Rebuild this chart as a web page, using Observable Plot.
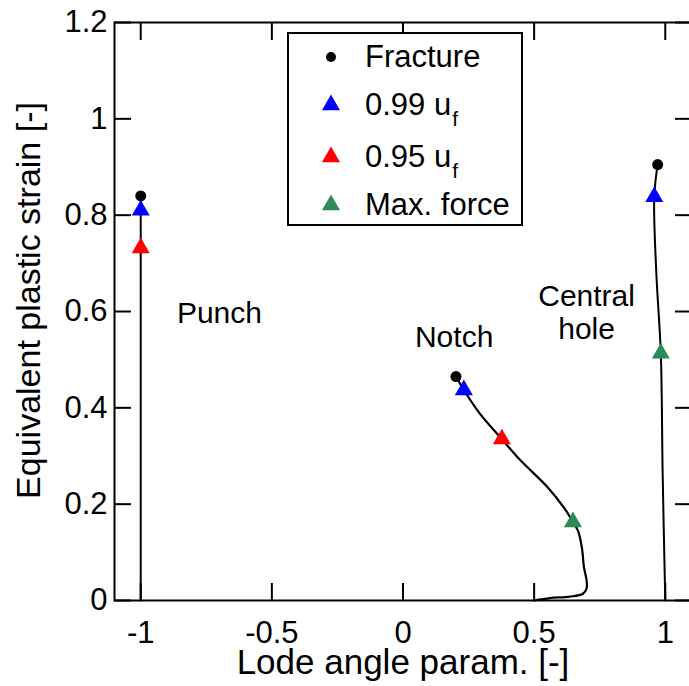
<!DOCTYPE html>
<html><head><meta charset="utf-8">
<script src="https://cdn.jsdelivr.net/npm/d3@7"></script>
<script src="https://cdn.jsdelivr.net/npm/@observablehq/plot@0.6"></script>
<style>
body{margin:0;background:#fff;}
#wrap{position:relative;width:689px;height:686px;overflow:hidden;font-family:"Liberation Sans",Arial,sans-serif;}
#legend{position:absolute;left:287px;top:32px;width:236px;height:194px;box-sizing:border-box;border:2px solid #000;background:#fff;}
.row{position:absolute;left:0;width:230px;height:40px;}
.row svg{position:absolute;left:30px;top:8px;}
.row .lab{position:absolute;left:76px;top:0;line-height:40px;font-size:31px;white-space:nowrap;color:#000;}
.row .sub{font-size:21px;position:relative;top:11px;margin-left:1px;}
</style></head><body><div id="wrap"></div>
<script>
// Axis ticks
const xTicks = [-1, -0.5, 0, 0.5, 1];
const yTicks = [0, 0.2, 0.4, 0.6, 0.8, 1, 1.2];
const xTitle = "Lode angle param. [-]";
const yTitle = "Equivalent plastic strain [-]";

// Strain paths
const punchX = [-1, -1];
const punchY = [0, 0.84];
const notchX = [0.5, 0.56, 0.636, 0.686, 0.70, 0.70, 0.69, 0.682, 0.667, 0.648, 0.617, 0.548, 0.446, 0.377, 0.293, 0.232, 0.202];
const notchY = [0, 0.005, 0.008, 0.014, 0.025, 0.042, 0.069, 0.11, 0.145, 0.163, 0.19, 0.237, 0.292, 0.335, 0.388, 0.437, 0.465];
const holeX = [1.0, 0.99, 0.983, 0.966, 0.958, 0.971];
const holeY = [0, 0.264, 0.513, 0.679, 0.838, 0.905];

// Markers
const fractureX = [-1, 0.202, 0.971];
const fractureY = [0.84, 0.465, 0.905];
const u99X = [-1, 0.232, 0.958];
const u99Y = [0.81, 0.437, 0.838];
const u95X = [-1, 0.377];
const u95Y = [0.732, 0.335];
const maxForceX = [0.648, 0.983];
const maxForceY = [0.163, 0.513];

// Annotations
const labelText = ["Punch", "Notch", "Central\nhole"];
const labelX = [-0.70, 0.195, 0.70];
const labelY = [0.598, 0.548, 0.60];

const legendNames = ["Fracture", "0.99 u", "0.95 u", "Max. force"];
const legendSub = ["", "f", "f", ""];
const legendColors = ["#000000", "#0000ff", "#ff0000", "#2e8b57"];
const legendSymbols = ["circle", "triangle", "triangle", "triangle"];

const pts = (xs, ys) => xs.map((x, i) => ({x, y: ys[i]}));
const labels = labelText.map((t, i) => ({t, x: labelX[i], y: labelY[i]}));
const font = "Liberation Sans, Arial, sans-serif";

const plot = Plot.plot({
  width: 689, height: 686,
  marginLeft: 114, marginRight: -2, marginTop: 22, marginBottom: 86,
  style: {fontFamily: font, background: "white", color: "black"},
  x: {domain: [-1.1, 1.1]},
  y: {domain: [0, 1.2]},
  marks: [
    Plot.axisX(xTicks, {anchor: "bottom", tickSize: -17, tickPadding: 37, strokeWidth: 2, fontSize: 31, tickFormat: d => String(d), label: null}),
    Plot.axisX(xTicks, {anchor: "top", tickSize: -17, strokeWidth: 2, tickFormat: () => "", label: null}),
    Plot.axisY(yTicks, {anchor: "left", tickSize: -17, tickPadding: 24, strokeWidth: 2, fontSize: 31, tickFormat: d => String(d), label: null}),
    Plot.axisY(yTicks, {anchor: "right", tickSize: -17, strokeWidth: 2, tickFormat: () => "", label: null}),
    Plot.frame({strokeWidth: 2}),
    Plot.line(pts(punchX, punchY), {x: "x", y: "y", stroke: "black", strokeWidth: 2}),
    Plot.line(pts(notchX, notchY), {x: "x", y: "y", stroke: "black", strokeWidth: 2.2, curve: "catmull-rom"}),
    Plot.line(pts(holeX, holeY), {x: "x", y: "y", stroke: "black", strokeWidth: 2, curve: "catmull-rom"}),
    Plot.dot(pts(fractureX, fractureY), {x: "x", y: "y", r: 5.5, fill: "black", symbol: "circle"}),
    Plot.dot(pts(u99X, u99Y), {x: "x", y: "y", r: 6.7, fill: "#0000ff", symbol: "triangle"}),
    Plot.dot(pts(u95X, u95Y), {x: "x", y: "y", r: 6.7, fill: "#ff0000", symbol: "triangle"}),
    Plot.dot(pts(maxForceX, maxForceY), {x: "x", y: "y", r: 6.7, fill: "#2e8b57", symbol: "triangle"}),
    Plot.text(labels, {x: "x", y: "y", text: "t", fontSize: 30, lineHeight: 1.1, fill: "black"}),
    Plot.text([xTitle], {frameAnchor: "bottom", dy: 62, lineAnchor: "middle", textAnchor: "middle", fontSize: 35, fill: "black"}),
    Plot.text([yTitle], {frameAnchor: "left", dx: -85, dy: -11, rotate: -90, lineAnchor: "middle", textAnchor: "middle", fontSize: 34, fill: "black"})
  ]
});

const wrap = document.getElementById("wrap");
wrap.appendChild(plot);

// Legend
const leg = document.createElement("div");
leg.id = "legend";
const rowTops = [3, 51, 103, 151];
legendNames.forEach((name, i) => {
  const row = document.createElement("div");
  row.className = "row";
  row.style.top = rowTops[i] + "px";
  const svg = d3.create("svg").attr("width", 24).attr("height", 24);
  const sym = legendSymbols[i] === "circle" ? d3.symbolCircle : d3.symbolTriangle;
  const r = legendSymbols[i] === "circle" ? 5 : 6.7;
  svg.append("path").attr("transform", "translate(12,12)")
    .attr("d", d3.symbol(sym, Math.PI * r * r)()).attr("fill", legendColors[i]);
  row.appendChild(svg.node());
  const lab = document.createElement("span");
  lab.className = "lab";
  lab.textContent = name;
  if (legendSub[i]) {
    const s = document.createElement("span");
    s.className = "sub";
    s.textContent = legendSub[i];
    lab.appendChild(s);
  }
  row.appendChild(lab);
  leg.appendChild(row);
});
wrap.appendChild(leg);
</script>
</body></html>
